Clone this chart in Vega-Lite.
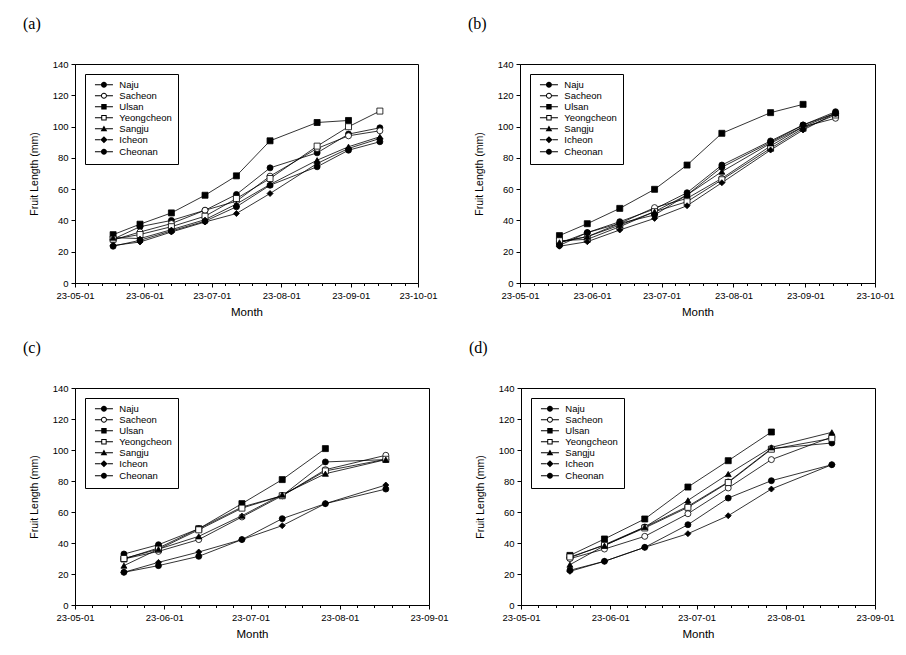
{
  "$schema": "https://vega.github.io/schema/vega-lite/v6.json",
  "background": "white",
  "padding": {"left": 22, "top": 15, "right": 5, "bottom": 5},
  "bounds": "flush",
  "spacing": 324,
  "resolve": {"legend": {"shape": "independent"}},
  "config": {
    "view": {"stroke": "black", "strokeWidth": 1},
    "axis": {"domainColor": "black", "tickColor": "black", "labelColor": "black", "titleColor": "black", "labelFont": "Liberation Sans", "titleFont": "Liberation Sans", "labelFontSize": 9.5, "titleFontWeight": "normal", "grid": false, "domainWidth": 1, "tickWidth": 1, "labelFlush": false, "labelOverlap": false, "labelBound": false},
    "legend": {"orient": "top-left", "offset": 10, "strokeColor": "black", "fillColor": "white", "padding": 6, "labelFont": "Liberation Sans", "labelFontSize": 9.5, "labelColor": "black", "symbolSize": 36, "symbolOpacity": 1, "rowPadding": -2.4, "labelOffset": 10.6, "symbolOffset": 8.2, "title": null},
    "title": {"font": "Liberation Serif", "fontSize": 16, "fontWeight": "normal", "anchor": "start", "frame": "group", "dx": -52, "offset": 27, "baseline": "bottom", "color": "black"}
  },
  "datasets": {
    "fruit": [
      {"panel": "a", "site": "Naju", "date": "2023-05-18", "length": 28},
      {"panel": "a", "site": "Naju", "date": "2023-05-30", "length": 36},
      {"panel": "a", "site": "Naju", "date": "2023-06-13", "length": 40},
      {"panel": "a", "site": "Naju", "date": "2023-06-28", "length": 46.5},
      {"panel": "a", "site": "Naju", "date": "2023-07-12", "length": 56.6},
      {"panel": "a", "site": "Naju", "date": "2023-07-27", "length": 73.6},
      {"panel": "a", "site": "Naju", "date": "2023-08-17", "length": 83.2},
      {"panel": "a", "site": "Naju", "date": "2023-08-31", "length": 95.2},
      {"panel": "a", "site": "Naju", "date": "2023-09-14", "length": 99.2},
      {"panel": "a", "site": "Sacheon", "date": "2023-05-18", "length": 27.5},
      {"panel": "a", "site": "Sacheon", "date": "2023-05-30", "length": 32.6},
      {"panel": "a", "site": "Sacheon", "date": "2023-06-13", "length": 38},
      {"panel": "a", "site": "Sacheon", "date": "2023-06-28", "length": 46.5},
      {"panel": "a", "site": "Sacheon", "date": "2023-07-12", "length": 52.3},
      {"panel": "a", "site": "Sacheon", "date": "2023-07-27", "length": 68.3},
      {"panel": "a", "site": "Sacheon", "date": "2023-08-17", "length": 86},
      {"panel": "a", "site": "Sacheon", "date": "2023-08-31", "length": 94.1},
      {"panel": "a", "site": "Sacheon", "date": "2023-09-14", "length": 97.3},
      {"panel": "a", "site": "Ulsan", "date": "2023-05-18", "length": 30.9},
      {"panel": "a", "site": "Ulsan", "date": "2023-05-30", "length": 37.6},
      {"panel": "a", "site": "Ulsan", "date": "2023-06-13", "length": 44.8},
      {"panel": "a", "site": "Ulsan", "date": "2023-06-28", "length": 56.1},
      {"panel": "a", "site": "Ulsan", "date": "2023-07-12", "length": 68.5},
      {"panel": "a", "site": "Ulsan", "date": "2023-07-27", "length": 90.9},
      {"panel": "a", "site": "Ulsan", "date": "2023-08-17", "length": 102.6},
      {"panel": "a", "site": "Ulsan", "date": "2023-08-31", "length": 103.9},
      {"panel": "a", "site": "Yeongcheon", "date": "2023-05-18", "length": 28},
      {"panel": "a", "site": "Yeongcheon", "date": "2023-05-30", "length": 31},
      {"panel": "a", "site": "Yeongcheon", "date": "2023-06-13", "length": 36},
      {"panel": "a", "site": "Yeongcheon", "date": "2023-06-28", "length": 42.7},
      {"panel": "a", "site": "Yeongcheon", "date": "2023-07-12", "length": 54},
      {"panel": "a", "site": "Yeongcheon", "date": "2023-07-27", "length": 66.8},
      {"panel": "a", "site": "Yeongcheon", "date": "2023-08-17", "length": 87.5},
      {"panel": "a", "site": "Yeongcheon", "date": "2023-08-31", "length": 99.9},
      {"panel": "a", "site": "Yeongcheon", "date": "2023-09-14", "length": 109.9},
      {"panel": "a", "site": "Sangju", "date": "2023-05-18", "length": 29},
      {"panel": "a", "site": "Sangju", "date": "2023-05-30", "length": 28.4},
      {"panel": "a", "site": "Sangju", "date": "2023-06-13", "length": 34.1},
      {"panel": "a", "site": "Sangju", "date": "2023-06-28", "length": 40.5},
      {"panel": "a", "site": "Sangju", "date": "2023-07-12", "length": 50.5},
      {"panel": "a", "site": "Sangju", "date": "2023-07-27", "length": 63},
      {"panel": "a", "site": "Sangju", "date": "2023-08-17", "length": 78.5},
      {"panel": "a", "site": "Sangju", "date": "2023-08-31", "length": 87.1},
      {"panel": "a", "site": "Sangju", "date": "2023-09-14", "length": 93.5},
      {"panel": "a", "site": "Icheon", "date": "2023-05-18", "length": 24},
      {"panel": "a", "site": "Icheon", "date": "2023-05-30", "length": 26.2},
      {"panel": "a", "site": "Icheon", "date": "2023-06-13", "length": 32.6},
      {"panel": "a", "site": "Icheon", "date": "2023-06-28", "length": 39},
      {"panel": "a", "site": "Icheon", "date": "2023-07-12", "length": 44.4},
      {"panel": "a", "site": "Icheon", "date": "2023-07-27", "length": 57.2},
      {"panel": "a", "site": "Icheon", "date": "2023-08-17", "length": 76.4},
      {"panel": "a", "site": "Icheon", "date": "2023-08-31", "length": 86},
      {"panel": "a", "site": "Icheon", "date": "2023-09-14", "length": 92.4},
      {"panel": "a", "site": "Cheonan", "date": "2023-05-18", "length": 23.5},
      {"panel": "a", "site": "Cheonan", "date": "2023-05-30", "length": 27.3},
      {"panel": "a", "site": "Cheonan", "date": "2023-06-13", "length": 33.3},
      {"panel": "a", "site": "Cheonan", "date": "2023-06-28", "length": 39.5},
      {"panel": "a", "site": "Cheonan", "date": "2023-07-12", "length": 48.7},
      {"panel": "a", "site": "Cheonan", "date": "2023-07-27", "length": 62.5},
      {"panel": "a", "site": "Cheonan", "date": "2023-08-17", "length": 74.3},
      {"panel": "a", "site": "Cheonan", "date": "2023-08-31", "length": 84.9},
      {"panel": "a", "site": "Cheonan", "date": "2023-09-14", "length": 90.3},

      {"panel": "b", "site": "Naju", "date": "2023-05-18", "length": 25.4},
      {"panel": "b", "site": "Naju", "date": "2023-05-30", "length": 32.2},
      {"panel": "b", "site": "Naju", "date": "2023-06-13", "length": 39.2},
      {"panel": "b", "site": "Naju", "date": "2023-06-28", "length": 47.3},
      {"panel": "b", "site": "Naju", "date": "2023-07-12", "length": 57.7},
      {"panel": "b", "site": "Naju", "date": "2023-07-27", "length": 75.4},
      {"panel": "b", "site": "Naju", "date": "2023-08-17", "length": 90.8},
      {"panel": "b", "site": "Naju", "date": "2023-08-31", "length": 101},
      {"panel": "b", "site": "Naju", "date": "2023-09-14", "length": 109.5},
      {"panel": "b", "site": "Sacheon", "date": "2023-05-18", "length": 26.4},
      {"panel": "b", "site": "Sacheon", "date": "2023-05-30", "length": 29.6},
      {"panel": "b", "site": "Sacheon", "date": "2023-06-13", "length": 38.1},
      {"panel": "b", "site": "Sacheon", "date": "2023-06-28", "length": 48.2},
      {"panel": "b", "site": "Sacheon", "date": "2023-07-12", "length": 54.1},
      {"panel": "b", "site": "Sacheon", "date": "2023-07-27", "length": 66.9},
      {"panel": "b", "site": "Sacheon", "date": "2023-08-17", "length": 87.6},
      {"panel": "b", "site": "Sacheon", "date": "2023-08-31", "length": 99.9},
      {"panel": "b", "site": "Sacheon", "date": "2023-09-14", "length": 105.3},
      {"panel": "b", "site": "Ulsan", "date": "2023-05-18", "length": 30.3},
      {"panel": "b", "site": "Ulsan", "date": "2023-05-30", "length": 37.9},
      {"panel": "b", "site": "Ulsan", "date": "2023-06-13", "length": 47.7},
      {"panel": "b", "site": "Ulsan", "date": "2023-06-28", "length": 59.9},
      {"panel": "b", "site": "Ulsan", "date": "2023-07-12", "length": 75.4},
      {"panel": "b", "site": "Ulsan", "date": "2023-07-27", "length": 95.7},
      {"panel": "b", "site": "Ulsan", "date": "2023-08-17", "length": 108.9},
      {"panel": "b", "site": "Ulsan", "date": "2023-08-31", "length": 114.2},
      {"panel": "b", "site": "Yeongcheon", "date": "2023-05-18", "length": 27},
      {"panel": "b", "site": "Yeongcheon", "date": "2023-05-30", "length": 27.9},
      {"panel": "b", "site": "Yeongcheon", "date": "2023-06-13", "length": 36},
      {"panel": "b", "site": "Yeongcheon", "date": "2023-06-28", "length": 45.6},
      {"panel": "b", "site": "Yeongcheon", "date": "2023-07-12", "length": 52},
      {"panel": "b", "site": "Yeongcheon", "date": "2023-07-27", "length": 66},
      {"panel": "b", "site": "Yeongcheon", "date": "2023-08-17", "length": 86.1},
      {"panel": "b", "site": "Yeongcheon", "date": "2023-08-31", "length": 98.9},
      {"panel": "b", "site": "Yeongcheon", "date": "2023-09-14", "length": 107.4},
      {"panel": "b", "site": "Sangju", "date": "2023-05-18", "length": 26},
      {"panel": "b", "site": "Sangju", "date": "2023-05-30", "length": 29.6},
      {"panel": "b", "site": "Sangju", "date": "2023-06-13", "length": 37},
      {"panel": "b", "site": "Sangju", "date": "2023-06-28", "length": 45.6},
      {"panel": "b", "site": "Sangju", "date": "2023-07-12", "length": 56.3},
      {"panel": "b", "site": "Sangju", "date": "2023-07-27", "length": 71.2},
      {"panel": "b", "site": "Sangju", "date": "2023-08-17", "length": 89.3},
      {"panel": "b", "site": "Sangju", "date": "2023-08-31", "length": 99.9},
      {"panel": "b", "site": "Sangju", "date": "2023-09-14", "length": 108.5},
      {"panel": "b", "site": "Icheon", "date": "2023-05-18", "length": 23.5},
      {"panel": "b", "site": "Icheon", "date": "2023-05-30", "length": 26.4},
      {"panel": "b", "site": "Icheon", "date": "2023-06-13", "length": 33.9},
      {"panel": "b", "site": "Icheon", "date": "2023-06-28", "length": 41.3},
      {"panel": "b", "site": "Icheon", "date": "2023-07-12", "length": 49.4},
      {"panel": "b", "site": "Icheon", "date": "2023-07-27", "length": 64.1},
      {"panel": "b", "site": "Icheon", "date": "2023-08-17", "length": 85},
      {"panel": "b", "site": "Icheon", "date": "2023-08-31", "length": 97.8},
      {"panel": "b", "site": "Icheon", "date": "2023-09-14", "length": 108.5},
      {"panel": "b", "site": "Cheonan", "date": "2023-05-18", "length": 24},
      {"panel": "b", "site": "Cheonan", "date": "2023-05-30", "length": 32.2},
      {"panel": "b", "site": "Cheonan", "date": "2023-06-13", "length": 38.1},
      {"panel": "b", "site": "Cheonan", "date": "2023-06-28", "length": 43.5},
      {"panel": "b", "site": "Cheonan", "date": "2023-07-12", "length": 56.3},
      {"panel": "b", "site": "Cheonan", "date": "2023-07-27", "length": 74},
      {"panel": "b", "site": "Cheonan", "date": "2023-08-17", "length": 90},
      {"panel": "b", "site": "Cheonan", "date": "2023-08-31", "length": 101},
      {"panel": "b", "site": "Cheonan", "date": "2023-09-14", "length": 108.5},

      {"panel": "c", "site": "Naju", "date": "2023-05-18", "length": 32.9},
      {"panel": "c", "site": "Naju", "date": "2023-05-30", "length": 38.9},
      {"panel": "c", "site": "Naju", "date": "2023-06-13", "length": 49.2},
      {"panel": "c", "site": "Naju", "date": "2023-06-28", "length": 63.2},
      {"panel": "c", "site": "Naju", "date": "2023-07-12", "length": 70.5},
      {"panel": "c", "site": "Naju", "date": "2023-07-27", "length": 92.3},
      {"panel": "c", "site": "Naju", "date": "2023-08-17", "length": 93.8},
      {"panel": "c", "site": "Sacheon", "date": "2023-05-18", "length": 29.7},
      {"panel": "c", "site": "Sacheon", "date": "2023-05-30", "length": 34.6},
      {"panel": "c", "site": "Sacheon", "date": "2023-06-13", "length": 42.2},
      {"panel": "c", "site": "Sacheon", "date": "2023-06-28", "length": 56.8},
      {"panel": "c", "site": "Sacheon", "date": "2023-07-12", "length": 70.5},
      {"panel": "c", "site": "Sacheon", "date": "2023-07-27", "length": 87.3},
      {"panel": "c", "site": "Sacheon", "date": "2023-08-17", "length": 96.6},
      {"panel": "c", "site": "Ulsan", "date": "2023-05-18", "length": 29.7},
      {"panel": "c", "site": "Ulsan", "date": "2023-05-30", "length": 36.8},
      {"panel": "c", "site": "Ulsan", "date": "2023-06-13", "length": 49.2},
      {"panel": "c", "site": "Ulsan", "date": "2023-06-28", "length": 65.4},
      {"panel": "c", "site": "Ulsan", "date": "2023-07-12", "length": 80.9},
      {"panel": "c", "site": "Ulsan", "date": "2023-07-27", "length": 100.9},
      {"panel": "c", "site": "Yeongcheon", "date": "2023-05-18", "length": 30},
      {"panel": "c", "site": "Yeongcheon", "date": "2023-05-30", "length": 36},
      {"panel": "c", "site": "Yeongcheon", "date": "2023-06-13", "length": 48.5},
      {"panel": "c", "site": "Yeongcheon", "date": "2023-06-28", "length": 62.5},
      {"panel": "c", "site": "Yeongcheon", "date": "2023-07-12", "length": 70.5},
      {"panel": "c", "site": "Yeongcheon", "date": "2023-07-27", "length": 86.5},
      {"panel": "c", "site": "Yeongcheon", "date": "2023-08-17", "length": 94},
      {"panel": "c", "site": "Sangju", "date": "2023-05-18", "length": 25.4},
      {"panel": "c", "site": "Sangju", "date": "2023-05-30", "length": 36},
      {"panel": "c", "site": "Sangju", "date": "2023-06-13", "length": 44.3},
      {"panel": "c", "site": "Sangju", "date": "2023-06-28", "length": 57.6},
      {"panel": "c", "site": "Sangju", "date": "2023-07-12", "length": 71.2},
      {"panel": "c", "site": "Sangju", "date": "2023-07-27", "length": 84.7},
      {"panel": "c", "site": "Sangju", "date": "2023-08-17", "length": 93.8},
      {"panel": "c", "site": "Icheon", "date": "2023-05-18", "length": 21.1},
      {"panel": "c", "site": "Icheon", "date": "2023-05-30", "length": 27.5},
      {"panel": "c", "site": "Icheon", "date": "2023-06-13", "length": 34.2},
      {"panel": "c", "site": "Icheon", "date": "2023-06-28", "length": 42.2},
      {"panel": "c", "site": "Icheon", "date": "2023-07-12", "length": 51.2},
      {"panel": "c", "site": "Icheon", "date": "2023-07-27", "length": 65.4},
      {"panel": "c", "site": "Icheon", "date": "2023-08-17", "length": 77.4},
      {"panel": "c", "site": "Cheonan", "date": "2023-05-18", "length": 21.1},
      {"panel": "c", "site": "Cheonan", "date": "2023-05-30", "length": 25.4},
      {"panel": "c", "site": "Cheonan", "date": "2023-06-13", "length": 31.4},
      {"panel": "c", "site": "Cheonan", "date": "2023-06-28", "length": 42.2},
      {"panel": "c", "site": "Cheonan", "date": "2023-07-12", "length": 55.7},
      {"panel": "c", "site": "Cheonan", "date": "2023-07-27", "length": 65.4},
      {"panel": "c", "site": "Cheonan", "date": "2023-08-17", "length": 74.8},

      {"panel": "d", "site": "Naju", "date": "2023-05-18", "length": 30.5},
      {"panel": "d", "site": "Naju", "date": "2023-05-30", "length": 38.9},
      {"panel": "d", "site": "Naju", "date": "2023-06-13", "length": 50.3},
      {"panel": "d", "site": "Naju", "date": "2023-06-28", "length": 63.7},
      {"panel": "d", "site": "Naju", "date": "2023-07-12", "length": 79.4},
      {"panel": "d", "site": "Naju", "date": "2023-07-27", "length": 100.9},
      {"panel": "d", "site": "Naju", "date": "2023-08-17", "length": 104.5},
      {"panel": "d", "site": "Sacheon", "date": "2023-05-18", "length": 29.9},
      {"panel": "d", "site": "Sacheon", "date": "2023-05-30", "length": 36.1},
      {"panel": "d", "site": "Sacheon", "date": "2023-06-13", "length": 44.3},
      {"panel": "d", "site": "Sacheon", "date": "2023-06-28", "length": 58.9},
      {"panel": "d", "site": "Sacheon", "date": "2023-07-12", "length": 75.5},
      {"panel": "d", "site": "Sacheon", "date": "2023-07-27", "length": 93.8},
      {"panel": "d", "site": "Sacheon", "date": "2023-08-17", "length": 108.4},
      {"panel": "d", "site": "Ulsan", "date": "2023-05-18", "length": 32},
      {"panel": "d", "site": "Ulsan", "date": "2023-05-30", "length": 42.6},
      {"panel": "d", "site": "Ulsan", "date": "2023-06-13", "length": 55.5},
      {"panel": "d", "site": "Ulsan", "date": "2023-06-28", "length": 76.1},
      {"panel": "d", "site": "Ulsan", "date": "2023-07-12", "length": 93.1},
      {"panel": "d", "site": "Ulsan", "date": "2023-07-27", "length": 111.6},
      {"panel": "d", "site": "Yeongcheon", "date": "2023-05-18", "length": 31},
      {"panel": "d", "site": "Yeongcheon", "date": "2023-05-30", "length": 38.5},
      {"panel": "d", "site": "Yeongcheon", "date": "2023-06-13", "length": 49.7},
      {"panel": "d", "site": "Yeongcheon", "date": "2023-06-28", "length": 63},
      {"panel": "d", "site": "Yeongcheon", "date": "2023-07-12", "length": 79},
      {"panel": "d", "site": "Yeongcheon", "date": "2023-07-27", "length": 100.5},
      {"panel": "d", "site": "Yeongcheon", "date": "2023-08-17", "length": 107.5},
      {"panel": "d", "site": "Sangju", "date": "2023-05-18", "length": 26},
      {"panel": "d", "site": "Sangju", "date": "2023-05-30", "length": 38.3},
      {"panel": "d", "site": "Sangju", "date": "2023-06-13", "length": 50.3},
      {"panel": "d", "site": "Sangju", "date": "2023-06-28", "length": 67.5},
      {"panel": "d", "site": "Sangju", "date": "2023-07-12", "length": 84.5},
      {"panel": "d", "site": "Sangju", "date": "2023-07-27", "length": 101.7},
      {"panel": "d", "site": "Sangju", "date": "2023-08-17", "length": 111.4},
      {"panel": "d", "site": "Icheon", "date": "2023-05-18", "length": 21.7},
      {"panel": "d", "site": "Icheon", "date": "2023-05-30", "length": 28.2},
      {"panel": "d", "site": "Icheon", "date": "2023-06-13", "length": 37.2},
      {"panel": "d", "site": "Icheon", "date": "2023-06-28", "length": 46},
      {"panel": "d", "site": "Icheon", "date": "2023-07-12", "length": 57.6},
      {"panel": "d", "site": "Icheon", "date": "2023-07-27", "length": 74.8},
      {"panel": "d", "site": "Icheon", "date": "2023-08-17", "length": 90.5},
      {"panel": "d", "site": "Cheonan", "date": "2023-05-18", "length": 22.4},
      {"panel": "d", "site": "Cheonan", "date": "2023-05-30", "length": 28.2},
      {"panel": "d", "site": "Cheonan", "date": "2023-06-13", "length": 37.2},
      {"panel": "d", "site": "Cheonan", "date": "2023-06-28", "length": 51.8},
      {"panel": "d", "site": "Cheonan", "date": "2023-07-12", "length": 69},
      {"panel": "d", "site": "Cheonan", "date": "2023-07-27", "length": 80.2},
      {"panel": "d", "site": "Cheonan", "date": "2023-08-17", "length": 90.5}
    ]
  },
  "vconcat": [
    {
      "hconcat": [
        {
          "title": "(a)",
          "width": 343, "height": 219,
          "data": {"name": "fruit"},
          "transform": [{"filter": "datum.panel === 'a'"}],
          "encoding": {
            "x": {"field": "date", "type": "temporal", "scale": {"type": "utc", "nice": false, "domain": [{"year": 2023, "month": 5, "date": 1, "utc": true}, {"year": 2023, "month": 10, "date": 1, "utc": true}]},
              "axis": {"title": "Month", "titleFontSize": 11.5, "titlePadding": 7, "labelPadding": 3,
                "values": [{"year": 2023, "month": 5, "date": 1, "utc": true}, {"year": 2023, "month": 5, "date": 7, "utc": true}, {"year": 2023, "month": 5, "date": 13, "utc": true}, {"year": 2023, "month": 5, "date": 19, "utc": true}, {"year": 2023, "month": 5, "date": 25, "utc": true}, {"year": 2023, "month": 6, "date": 1, "utc": true}, {"year": 2023, "month": 6, "date": 7, "utc": true}, {"year": 2023, "month": 6, "date": 13, "utc": true}, {"year": 2023, "month": 6, "date": 19, "utc": true}, {"year": 2023, "month": 6, "date": 25, "utc": true}, {"year": 2023, "month": 7, "date": 1, "utc": true}, {"year": 2023, "month": 7, "date": 7, "utc": true}, {"year": 2023, "month": 7, "date": 13, "utc": true}, {"year": 2023, "month": 7, "date": 19, "utc": true}, {"year": 2023, "month": 7, "date": 25, "utc": true}, {"year": 2023, "month": 8, "date": 1, "utc": true}, {"year": 2023, "month": 8, "date": 7, "utc": true}, {"year": 2023, "month": 8, "date": 13, "utc": true}, {"year": 2023, "month": 8, "date": 19, "utc": true}, {"year": 2023, "month": 8, "date": 25, "utc": true}, {"year": 2023, "month": 9, "date": 1, "utc": true}, {"year": 2023, "month": 9, "date": 7, "utc": true}, {"year": 2023, "month": 9, "date": 13, "utc": true}, {"year": 2023, "month": 9, "date": 19, "utc": true}, {"year": 2023, "month": 9, "date": 25, "utc": true}, {"year": 2023, "month": 10, "date": 1, "utc": true}],
                "labelExpr": "utcdate(datum.value) == 1 ? utcFormat(datum.value, '%y-%m-%d') : ''",
                "tickSize": {"condition": {"test": "utcdate(datum.value) == 1", "value": 4}, "value": 2.5}}},
            "y": {"field": "length", "type": "quantitative", "scale": {"domain": [0, 140], "nice": false},
              "axis": {"title": "Fruit Length (mm)", "titleFontSize": 10.5, "titlePadding": 13, "values": [0, 20, 40, 60, 80, 100, 120, 140], "tickSize": 4, "labelPadding": 3}}
          },
          "layer": [
            {"mark": {"type": "line", "color": "black", "strokeWidth": 0.8}, "encoding": {"detail": {"field": "site"}}},
            {"mark": {"type": "point", "filled": true, "stroke": "black", "strokeWidth": 0.8, "size": 36, "opacity": 1},
              "encoding": {
                "shape": {"condition": [{"test": "datum.site === 'Ulsan' || datum.site === 'Yeongcheon'", "value": "square"}, {"test": "datum.site === 'Sangju'", "value": "triangle-up"}, {"test": "datum.site === 'Icheon'", "value": "diamond"}], "value": "circle"},
                "fill": {"condition": {"test": "datum.site === 'Sacheon' || datum.site === 'Yeongcheon'", "value": "white"}, "value": "black"}
              }},
            {"mark": {"type": "point", "filled": true, "fill": "black", "color": "black", "size": 36, "opacity": 0},
              "encoding": {
                "shape": {"field": "site", "type": "nominal", "scale": {"domain": ["Naju", "Sacheon", "Ulsan", "Yeongcheon", "Sangju", "Icheon", "Cheonan"], "range": [
                  "M-3,-0.17L-1,-0.17L-1,0.17L-3,0.17ZM1,-0.17L3,-0.17L3,0.17L1,0.17ZM1,0C1,0.55,0.55,1,0,1C-0.55,1,-1,0.55,-1,0C-1,-0.55,-0.55,-1,0,-1C0.55,-1,1,-0.55,1,0Z",
                  "M-3,-0.17L-1,-0.17L-1,0.17L-3,0.17ZM1,-0.17L3,-0.17L3,0.17L1,0.17ZM1,0C1,0.55,0.55,1,0,1C-0.55,1,-1,0.55,-1,0C-1,-0.55,-0.55,-1,0,-1C0.55,-1,1,-0.55,1,0ZM0.67,0C0.67,-0.37,0.37,-0.67,0,-0.67C-0.37,-0.67,-0.67,-0.37,-0.67,0C-0.67,0.37,-0.37,0.67,0,0.67C0.37,0.67,0.67,0.37,0.67,0Z",
                  "M-3,-0.17L-0.9,-0.17L-0.9,0.17L-3,0.17ZM0.9,-0.17L3,-0.17L3,0.17L0.9,0.17ZM-0.9,-0.9L0.9,-0.9L0.9,0.9L-0.9,0.9Z",
                  "M-3,-0.17L-0.9,-0.17L-0.9,0.17L-3,0.17ZM0.9,-0.17L3,-0.17L3,0.17L0.9,0.17ZM-0.9,-0.9L0.9,-0.9L0.9,0.9L-0.9,0.9ZM-0.57,-0.57L-0.57,0.57L0.57,0.57L0.57,-0.57Z",
                  "M-3,-0.17L-0.64,-0.17L-0.64,0.17L-3,0.17ZM0.64,-0.17L3,-0.17L3,0.17L0.64,0.17ZM0,-1.1L1.1,0.8L-1.1,0.8Z",
                  "M-3,-0.17L-1.2,-0.17L-1.2,0.17L-3,0.17ZM1.2,-0.17L3,-0.17L3,0.17L1.2,0.17ZM0,-1.2L1.2,0L0,1.2L-1.2,0Z",
                  "M-3,-0.17L-1,-0.17L-1,0.17L-3,0.17ZM1,-0.17L3,-0.17L3,0.17L1,0.17ZM1,0C1,0.55,0.55,1,0,1C-0.55,1,-1,0.55,-1,0C-1,-0.55,-0.55,-1,0,-1C0.55,-1,1,-0.55,1,0Z"]}, "legend": {"title": null}}
              }}
          ]
        },
        {
          "title": "(b)",
          "width": 355, "height": 219,
          "data": {"name": "fruit"},
          "transform": [{"filter": "datum.panel === 'b'"}],
          "encoding": {
            "x": {"field": "date", "type": "temporal", "scale": {"type": "utc", "nice": false, "domain": [{"year": 2023, "month": 5, "date": 1, "utc": true}, {"year": 2023, "month": 10, "date": 1, "utc": true}]},
              "axis": {"title": "Month", "titleFontSize": 11.5, "titlePadding": 7, "labelPadding": 3,
                "values": [{"year": 2023, "month": 5, "date": 1, "utc": true}, {"year": 2023, "month": 5, "date": 7, "utc": true}, {"year": 2023, "month": 5, "date": 13, "utc": true}, {"year": 2023, "month": 5, "date": 19, "utc": true}, {"year": 2023, "month": 5, "date": 25, "utc": true}, {"year": 2023, "month": 6, "date": 1, "utc": true}, {"year": 2023, "month": 6, "date": 7, "utc": true}, {"year": 2023, "month": 6, "date": 13, "utc": true}, {"year": 2023, "month": 6, "date": 19, "utc": true}, {"year": 2023, "month": 6, "date": 25, "utc": true}, {"year": 2023, "month": 7, "date": 1, "utc": true}, {"year": 2023, "month": 7, "date": 7, "utc": true}, {"year": 2023, "month": 7, "date": 13, "utc": true}, {"year": 2023, "month": 7, "date": 19, "utc": true}, {"year": 2023, "month": 7, "date": 25, "utc": true}, {"year": 2023, "month": 8, "date": 1, "utc": true}, {"year": 2023, "month": 8, "date": 7, "utc": true}, {"year": 2023, "month": 8, "date": 13, "utc": true}, {"year": 2023, "month": 8, "date": 19, "utc": true}, {"year": 2023, "month": 8, "date": 25, "utc": true}, {"year": 2023, "month": 9, "date": 1, "utc": true}, {"year": 2023, "month": 9, "date": 7, "utc": true}, {"year": 2023, "month": 9, "date": 13, "utc": true}, {"year": 2023, "month": 9, "date": 19, "utc": true}, {"year": 2023, "month": 9, "date": 25, "utc": true}, {"year": 2023, "month": 10, "date": 1, "utc": true}],
                "labelExpr": "utcdate(datum.value) == 1 ? utcFormat(datum.value, '%y-%m-%d') : ''",
                "tickSize": {"condition": {"test": "utcdate(datum.value) == 1", "value": 4}, "value": 2.5}}},
            "y": {"field": "length", "type": "quantitative", "scale": {"domain": [0, 140], "nice": false},
              "axis": {"title": "Fruit Length (mm)", "titleFontSize": 10.5, "titlePadding": 13, "values": [0, 20, 40, 60, 80, 100, 120, 140], "tickSize": 4, "labelPadding": 3}}
          },
          "layer": [
            {"mark": {"type": "line", "color": "black", "strokeWidth": 0.8}, "encoding": {"detail": {"field": "site"}}},
            {"mark": {"type": "point", "filled": true, "stroke": "black", "strokeWidth": 0.8, "size": 36, "opacity": 1},
              "encoding": {
                "shape": {"condition": [{"test": "datum.site === 'Ulsan' || datum.site === 'Yeongcheon'", "value": "square"}, {"test": "datum.site === 'Sangju'", "value": "triangle-up"}, {"test": "datum.site === 'Icheon'", "value": "diamond"}], "value": "circle"},
                "fill": {"condition": {"test": "datum.site === 'Sacheon' || datum.site === 'Yeongcheon'", "value": "white"}, "value": "black"}
              }},
            {"mark": {"type": "point", "filled": true, "fill": "black", "color": "black", "size": 36, "opacity": 0},
              "encoding": {
                "shape": {"field": "site", "type": "nominal", "scale": {"domain": ["Naju", "Sacheon", "Ulsan", "Yeongcheon", "Sangju", "Icheon", "Cheonan"], "range": [
                  "M-3,-0.17L-1,-0.17L-1,0.17L-3,0.17ZM1,-0.17L3,-0.17L3,0.17L1,0.17ZM1,0C1,0.55,0.55,1,0,1C-0.55,1,-1,0.55,-1,0C-1,-0.55,-0.55,-1,0,-1C0.55,-1,1,-0.55,1,0Z",
                  "M-3,-0.17L-1,-0.17L-1,0.17L-3,0.17ZM1,-0.17L3,-0.17L3,0.17L1,0.17ZM1,0C1,0.55,0.55,1,0,1C-0.55,1,-1,0.55,-1,0C-1,-0.55,-0.55,-1,0,-1C0.55,-1,1,-0.55,1,0ZM0.67,0C0.67,-0.37,0.37,-0.67,0,-0.67C-0.37,-0.67,-0.67,-0.37,-0.67,0C-0.67,0.37,-0.37,0.67,0,0.67C0.37,0.67,0.67,0.37,0.67,0Z",
                  "M-3,-0.17L-0.9,-0.17L-0.9,0.17L-3,0.17ZM0.9,-0.17L3,-0.17L3,0.17L0.9,0.17ZM-0.9,-0.9L0.9,-0.9L0.9,0.9L-0.9,0.9Z",
                  "M-3,-0.17L-0.9,-0.17L-0.9,0.17L-3,0.17ZM0.9,-0.17L3,-0.17L3,0.17L0.9,0.17ZM-0.9,-0.9L0.9,-0.9L0.9,0.9L-0.9,0.9ZM-0.57,-0.57L-0.57,0.57L0.57,0.57L0.57,-0.57Z",
                  "M-3,-0.17L-0.64,-0.17L-0.64,0.17L-3,0.17ZM0.64,-0.17L3,-0.17L3,0.17L0.64,0.17ZM0,-1.1L1.1,0.8L-1.1,0.8Z",
                  "M-3,-0.17L-1.2,-0.17L-1.2,0.17L-3,0.17ZM1.2,-0.17L3,-0.17L3,0.17L1.2,0.17ZM0,-1.2L1.2,0L0,1.2L-1.2,0Z",
                  "M-3,-0.17L-1,-0.17L-1,0.17L-3,0.17ZM1,-0.17L3,-0.17L3,0.17L1,0.17ZM1,0C1,0.55,0.55,1,0,1C-0.55,1,-1,0.55,-1,0C-1,-0.55,-0.55,-1,0,-1C0.55,-1,1,-0.55,1,0Z"]}, "legend": {"title": null}}
              }}
          ]
        }
      ],
      "spacing": 102,
      "bounds": "flush",
      "resolve": {"legend": {"shape": "independent"}}
    },
    {
      "hconcat": [
        {
          "title": "(c)",
          "width": 354, "height": 217,
          "data": {"name": "fruit"},
          "transform": [{"filter": "datum.panel === 'c'"}],
          "encoding": {
            "x": {"field": "date", "type": "temporal", "scale": {"type": "utc", "nice": false, "domain": [{"year": 2023, "month": 5, "date": 1, "utc": true}, {"year": 2023, "month": 9, "date": 1, "utc": true}]},
              "axis": {"title": "Month", "titleFontSize": 11.5, "titlePadding": 7, "labelPadding": 3,
                "values": [{"year": 2023, "month": 5, "date": 1, "utc": true}, {"year": 2023, "month": 5, "date": 7, "utc": true}, {"year": 2023, "month": 5, "date": 13, "utc": true}, {"year": 2023, "month": 5, "date": 19, "utc": true}, {"year": 2023, "month": 5, "date": 25, "utc": true}, {"year": 2023, "month": 6, "date": 1, "utc": true}, {"year": 2023, "month": 6, "date": 7, "utc": true}, {"year": 2023, "month": 6, "date": 13, "utc": true}, {"year": 2023, "month": 6, "date": 19, "utc": true}, {"year": 2023, "month": 6, "date": 25, "utc": true}, {"year": 2023, "month": 7, "date": 1, "utc": true}, {"year": 2023, "month": 7, "date": 7, "utc": true}, {"year": 2023, "month": 7, "date": 13, "utc": true}, {"year": 2023, "month": 7, "date": 19, "utc": true}, {"year": 2023, "month": 7, "date": 25, "utc": true}, {"year": 2023, "month": 8, "date": 1, "utc": true}, {"year": 2023, "month": 8, "date": 7, "utc": true}, {"year": 2023, "month": 8, "date": 13, "utc": true}, {"year": 2023, "month": 8, "date": 19, "utc": true}, {"year": 2023, "month": 8, "date": 25, "utc": true}, {"year": 2023, "month": 9, "date": 1, "utc": true}],
                "labelExpr": "utcdate(datum.value) == 1 ? utcFormat(datum.value, '%y-%m-%d') : ''",
                "tickSize": {"condition": {"test": "utcdate(datum.value) == 1", "value": 4}, "value": 2.5}}},
            "y": {"field": "length", "type": "quantitative", "scale": {"domain": [0, 140], "nice": false},
              "axis": {"title": "Fruit Length (mm)", "titleFontSize": 10.5, "titlePadding": 13, "values": [0, 20, 40, 60, 80, 100, 120, 140], "tickSize": 4, "labelPadding": 3}}
          },
          "layer": [
            {"mark": {"type": "line", "color": "black", "strokeWidth": 0.8}, "encoding": {"detail": {"field": "site"}}},
            {"mark": {"type": "point", "filled": true, "stroke": "black", "strokeWidth": 0.8, "size": 36, "opacity": 1},
              "encoding": {
                "shape": {"condition": [{"test": "datum.site === 'Ulsan' || datum.site === 'Yeongcheon'", "value": "square"}, {"test": "datum.site === 'Sangju'", "value": "triangle-up"}, {"test": "datum.site === 'Icheon'", "value": "diamond"}], "value": "circle"},
                "fill": {"condition": {"test": "datum.site === 'Sacheon' || datum.site === 'Yeongcheon'", "value": "white"}, "value": "black"}
              }},
            {"mark": {"type": "point", "filled": true, "fill": "black", "color": "black", "size": 36, "opacity": 0},
              "encoding": {
                "shape": {"field": "site", "type": "nominal", "scale": {"domain": ["Naju", "Sacheon", "Ulsan", "Yeongcheon", "Sangju", "Icheon", "Cheonan"], "range": [
                  "M-3,-0.17L-1,-0.17L-1,0.17L-3,0.17ZM1,-0.17L3,-0.17L3,0.17L1,0.17ZM1,0C1,0.55,0.55,1,0,1C-0.55,1,-1,0.55,-1,0C-1,-0.55,-0.55,-1,0,-1C0.55,-1,1,-0.55,1,0Z",
                  "M-3,-0.17L-1,-0.17L-1,0.17L-3,0.17ZM1,-0.17L3,-0.17L3,0.17L1,0.17ZM1,0C1,0.55,0.55,1,0,1C-0.55,1,-1,0.55,-1,0C-1,-0.55,-0.55,-1,0,-1C0.55,-1,1,-0.55,1,0ZM0.67,0C0.67,-0.37,0.37,-0.67,0,-0.67C-0.37,-0.67,-0.67,-0.37,-0.67,0C-0.67,0.37,-0.37,0.67,0,0.67C0.37,0.67,0.67,0.37,0.67,0Z",
                  "M-3,-0.17L-0.9,-0.17L-0.9,0.17L-3,0.17ZM0.9,-0.17L3,-0.17L3,0.17L0.9,0.17ZM-0.9,-0.9L0.9,-0.9L0.9,0.9L-0.9,0.9Z",
                  "M-3,-0.17L-0.9,-0.17L-0.9,0.17L-3,0.17ZM0.9,-0.17L3,-0.17L3,0.17L0.9,0.17ZM-0.9,-0.9L0.9,-0.9L0.9,0.9L-0.9,0.9ZM-0.57,-0.57L-0.57,0.57L0.57,0.57L0.57,-0.57Z",
                  "M-3,-0.17L-0.64,-0.17L-0.64,0.17L-3,0.17ZM0.64,-0.17L3,-0.17L3,0.17L0.64,0.17ZM0,-1.1L1.1,0.8L-1.1,0.8Z",
                  "M-3,-0.17L-1.2,-0.17L-1.2,0.17L-3,0.17ZM1.2,-0.17L3,-0.17L3,0.17L1.2,0.17ZM0,-1.2L1.2,0L0,1.2L-1.2,0Z",
                  "M-3,-0.17L-1,-0.17L-1,0.17L-3,0.17ZM1,-0.17L3,-0.17L3,0.17L1,0.17ZM1,0C1,0.55,0.55,1,0,1C-0.55,1,-1,0.55,-1,0C-1,-0.55,-0.55,-1,0,-1C0.55,-1,1,-0.55,1,0Z"]}, "legend": {"title": null}}
              }}
          ]
        },
        {
          "title": "(d)",
          "width": 354, "height": 217,
          "data": {"name": "fruit"},
          "transform": [{"filter": "datum.panel === 'd'"}],
          "encoding": {
            "x": {"field": "date", "type": "temporal", "scale": {"type": "utc", "nice": false, "domain": [{"year": 2023, "month": 5, "date": 1, "utc": true}, {"year": 2023, "month": 9, "date": 1, "utc": true}]},
              "axis": {"title": "Month", "titleFontSize": 11.5, "titlePadding": 7, "labelPadding": 3,
                "values": [{"year": 2023, "month": 5, "date": 1, "utc": true}, {"year": 2023, "month": 5, "date": 7, "utc": true}, {"year": 2023, "month": 5, "date": 13, "utc": true}, {"year": 2023, "month": 5, "date": 19, "utc": true}, {"year": 2023, "month": 5, "date": 25, "utc": true}, {"year": 2023, "month": 6, "date": 1, "utc": true}, {"year": 2023, "month": 6, "date": 7, "utc": true}, {"year": 2023, "month": 6, "date": 13, "utc": true}, {"year": 2023, "month": 6, "date": 19, "utc": true}, {"year": 2023, "month": 6, "date": 25, "utc": true}, {"year": 2023, "month": 7, "date": 1, "utc": true}, {"year": 2023, "month": 7, "date": 7, "utc": true}, {"year": 2023, "month": 7, "date": 13, "utc": true}, {"year": 2023, "month": 7, "date": 19, "utc": true}, {"year": 2023, "month": 7, "date": 25, "utc": true}, {"year": 2023, "month": 8, "date": 1, "utc": true}, {"year": 2023, "month": 8, "date": 7, "utc": true}, {"year": 2023, "month": 8, "date": 13, "utc": true}, {"year": 2023, "month": 8, "date": 19, "utc": true}, {"year": 2023, "month": 8, "date": 25, "utc": true}, {"year": 2023, "month": 9, "date": 1, "utc": true}],
                "labelExpr": "utcdate(datum.value) == 1 ? utcFormat(datum.value, '%y-%m-%d') : ''",
                "tickSize": {"condition": {"test": "utcdate(datum.value) == 1", "value": 4}, "value": 2.5}}},
            "y": {"field": "length", "type": "quantitative", "scale": {"domain": [0, 140], "nice": false},
              "axis": {"title": "Fruit Length (mm)", "titleFontSize": 10.5, "titlePadding": 13, "values": [0, 20, 40, 60, 80, 100, 120, 140], "tickSize": 4, "labelPadding": 3}}
          },
          "layer": [
            {"mark": {"type": "line", "color": "black", "strokeWidth": 0.8}, "encoding": {"detail": {"field": "site"}}},
            {"mark": {"type": "point", "filled": true, "stroke": "black", "strokeWidth": 0.8, "size": 36, "opacity": 1},
              "encoding": {
                "shape": {"condition": [{"test": "datum.site === 'Ulsan' || datum.site === 'Yeongcheon'", "value": "square"}, {"test": "datum.site === 'Sangju'", "value": "triangle-up"}, {"test": "datum.site === 'Icheon'", "value": "diamond"}], "value": "circle"},
                "fill": {"condition": {"test": "datum.site === 'Sacheon' || datum.site === 'Yeongcheon'", "value": "white"}, "value": "black"}
              }},
            {"mark": {"type": "point", "filled": true, "fill": "black", "color": "black", "size": 36, "opacity": 0},
              "encoding": {
                "shape": {"field": "site", "type": "nominal", "scale": {"domain": ["Naju", "Sacheon", "Ulsan", "Yeongcheon", "Sangju", "Icheon", "Cheonan"], "range": [
                  "M-3,-0.17L-1,-0.17L-1,0.17L-3,0.17ZM1,-0.17L3,-0.17L3,0.17L1,0.17ZM1,0C1,0.55,0.55,1,0,1C-0.55,1,-1,0.55,-1,0C-1,-0.55,-0.55,-1,0,-1C0.55,-1,1,-0.55,1,0Z",
                  "M-3,-0.17L-1,-0.17L-1,0.17L-3,0.17ZM1,-0.17L3,-0.17L3,0.17L1,0.17ZM1,0C1,0.55,0.55,1,0,1C-0.55,1,-1,0.55,-1,0C-1,-0.55,-0.55,-1,0,-1C0.55,-1,1,-0.55,1,0ZM0.67,0C0.67,-0.37,0.37,-0.67,0,-0.67C-0.37,-0.67,-0.67,-0.37,-0.67,0C-0.67,0.37,-0.37,0.67,0,0.67C0.37,0.67,0.67,0.37,0.67,0Z",
                  "M-3,-0.17L-0.9,-0.17L-0.9,0.17L-3,0.17ZM0.9,-0.17L3,-0.17L3,0.17L0.9,0.17ZM-0.9,-0.9L0.9,-0.9L0.9,0.9L-0.9,0.9Z",
                  "M-3,-0.17L-0.9,-0.17L-0.9,0.17L-3,0.17ZM0.9,-0.17L3,-0.17L3,0.17L0.9,0.17ZM-0.9,-0.9L0.9,-0.9L0.9,0.9L-0.9,0.9ZM-0.57,-0.57L-0.57,0.57L0.57,0.57L0.57,-0.57Z",
                  "M-3,-0.17L-0.64,-0.17L-0.64,0.17L-3,0.17ZM0.64,-0.17L3,-0.17L3,0.17L0.64,0.17ZM0,-1.1L1.1,0.8L-1.1,0.8Z",
                  "M-3,-0.17L-1.2,-0.17L-1.2,0.17L-3,0.17ZM1.2,-0.17L3,-0.17L3,0.17L1.2,0.17ZM0,-1.2L1.2,0L0,1.2L-1.2,0Z",
                  "M-3,-0.17L-1,-0.17L-1,0.17L-3,0.17ZM1,-0.17L3,-0.17L3,0.17L1,0.17ZM1,0C1,0.55,0.55,1,0,1C-0.55,1,-1,0.55,-1,0C-1,-0.55,-0.55,-1,0,-1C0.55,-1,1,-0.55,1,0Z"]}, "legend": {"title": null}}
              }}
          ]
        }
      ],
      "spacing": 92,
      "bounds": "flush",
      "resolve": {"legend": {"shape": "independent"}}
    }
  ]
}
